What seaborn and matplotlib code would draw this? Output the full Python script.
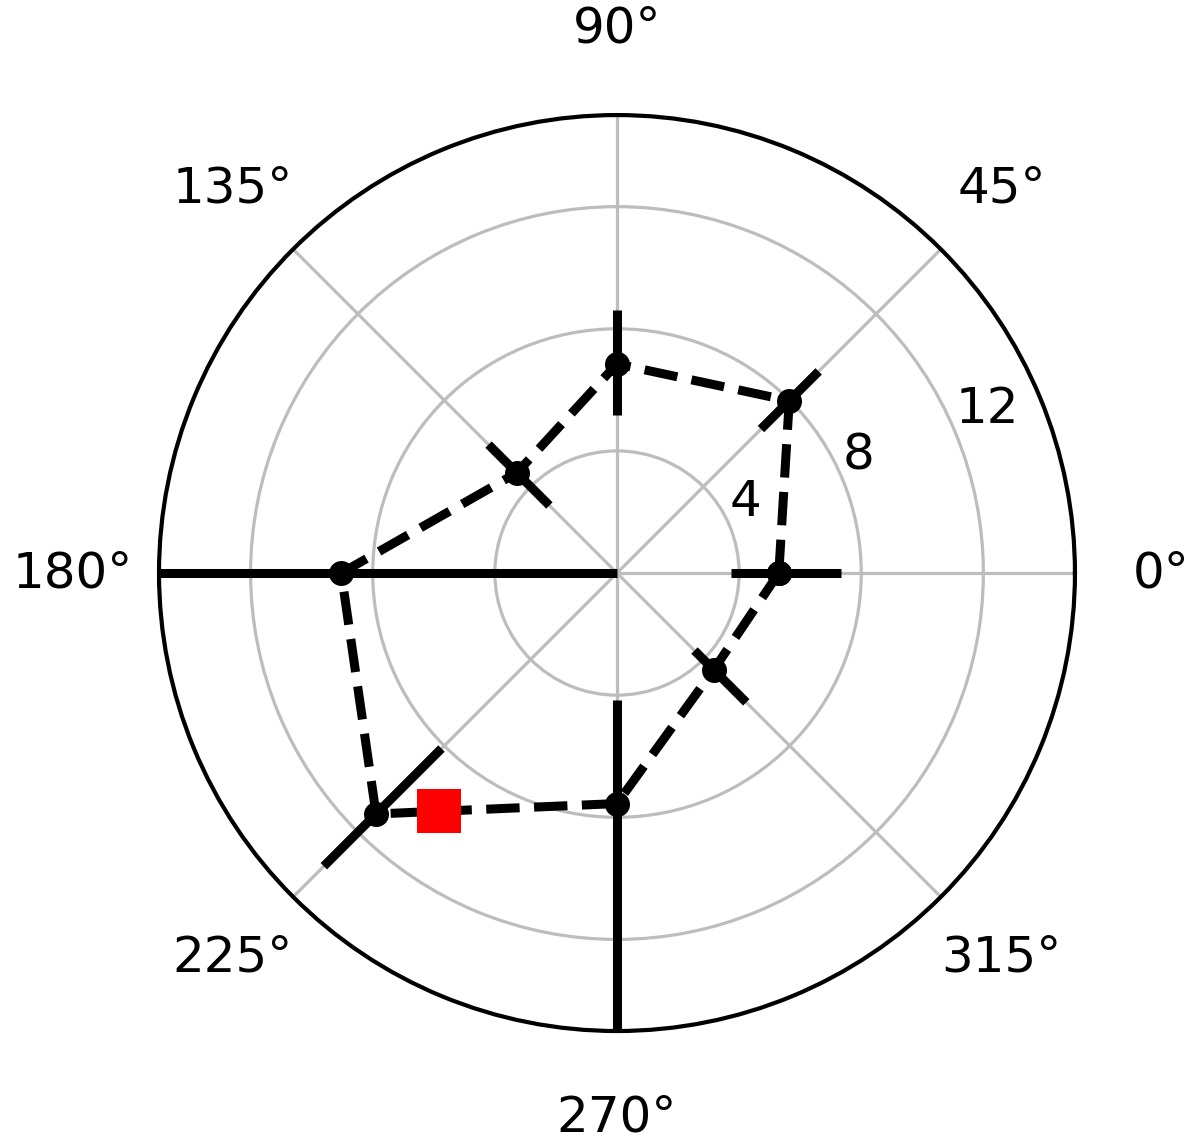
import numpy as np
import matplotlib
matplotlib.use('Agg')
import matplotlib.pyplot as plt
import seaborn as sns

# Messwerte je Richtung (Grad), Radius und asymmetrische Fehler
angles_deg = [0, 45, 90, 135, 180, 225, 270, 315]
radius = [5.3, 7.98, 6.85, 4.64, 9.03, 11.16, 7.55, 4.48]
err_lower = [1.55, 1.31, 1.67, 1.51, 9.03, 3.03, 3.39, 0.89]
err_upper = [2.03, 1.36, 1.77, 1.31, 7.0, 2.42, 8.0, 1.51]

# hervorgehobener Punkt
highlight_deg = [233.2]
highlight_r = [9.74]

r_max = 15
r_ticks = [4, 8, 12]

BLACK = '#000000'

sns.set_theme(style='white')
plt.rcParams['font.family'] = ['DejaVu Sans']

fig = plt.figure(figsize=(12, 11.47), dpi=100)
ax = fig.add_axes([0.1325, 0.1011, 0.7633, 0.7986], projection='polar')

theta = np.deg2rad(angles_deg)
r = np.array(radius)
lo = np.array(err_lower)
hi = np.array(err_upper)

# Fehlerbalken radial
ax.vlines(theta, r - lo, r + hi, colors=BLACK, lw=6.5, zorder=3)

# geschlossener Linienzug
theta_closed = np.append(theta, theta[0] + 2 * np.pi)
r_closed = np.append(r, r[0])
sns.lineplot(x=theta_closed, y=r_closed, ax=ax, sort=False, color=BLACK,
             lw=6.5, linestyle='--', marker='o', markersize=18,
             markeredgewidth=0, zorder=4)

sns.scatterplot(x=np.deg2rad(highlight_deg), y=highlight_r, ax=ax,
                marker='s', s=31.7 ** 2, color='#ff0000', linewidth=0, zorder=5)

ax.set_ylim(0, r_max)
ax.set_rticks(r_ticks)
ax.set_thetagrids(range(0, 360, 45))
ax.tick_params(labelsize=36, colors=BLACK)
ax.tick_params(axis='x', pad=49)
ax.grid(True, color='#bdbdbd', lw=2.3)
ax.spines['polar'].set_color(BLACK)
ax.spines['polar'].set_linewidth(3)
ax.set_xlabel('')
ax.set_ylabel('')

fig.savefig('out.png', dpi=100)
